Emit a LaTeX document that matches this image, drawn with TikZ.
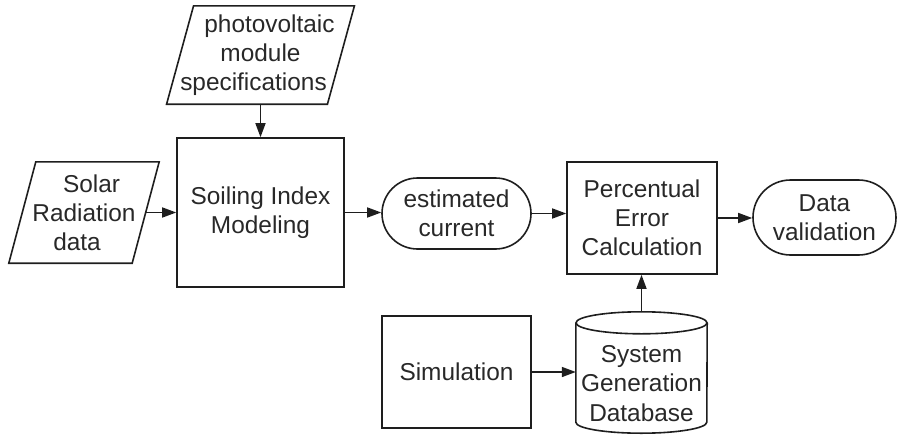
\documentclass[tikz,border=0pt]{standalone}
\usepackage{fontspec}
\setmainfont{Liberation Sans}
\usetikzlibrary{arrows.meta,shapes.misc}

\definecolor{ink}{RGB}{30,30,30}
\definecolor{txt}{RGB}{40,40,40}

\tikzset{
  outline/.style={draw=ink, line width=1.6pt},
  label/.style={font=\fontsize{24.4pt}{29.2pt}\selectfont, text=txt, align=center, inner sep=0pt},
  procbox/.style={label, outline, rectangle},
  terminal/.style={label, outline, rounded rectangle},
  iobody/.style={label, rectangle},
  flow/.style={draw=ink, line width=1.6pt, -{Triangle[length=14pt,width=10pt]}},
}

\begin{document}
\begin{tikzpicture}[x=1pt, y=-1pt]
  \useasboundingbox (0,0) rectangle (897,434);

  % data inputs (parallelograms: text body, outline drawn below)
  \node[iobody, minimum width=160pt, minimum height=98pt] (pv) at (260.5,55)
    {\hspace*{18pt}photovoltaic\\module\\specifications\hspace*{14pt}};
  \node[iobody, minimum width=123pt, minimum height=101pt] (solar) at (84,212.5)
    {\hspace*{15pt}Solar\\Radiation\\data\hspace*{14pt}};

  \draw[outline] ([xshift=13.5pt]pv.north west) -- ([xshift=13.5pt]pv.north east)
    -- ([xshift=-13.5pt]pv.south east) -- ([xshift=-13.5pt]pv.south west) -- cycle;
  \draw[outline] ([xshift=13.5pt]solar.north west) -- ([xshift=13.5pt]solar.north east)
    -- ([xshift=-13.5pt]solar.south east) -- ([xshift=-13.5pt]solar.south west) -- cycle;

  % processes
  \node[procbox, minimum width=167pt, minimum height=149pt] (soil) at (260.5,212.5)
    {Soiling Index\\Modeling};
  \node[procbox, minimum width=150pt, minimum height=112pt] (perc) at (642,218)
    {Percentual\\Error\\Calculation};
  \node[procbox, minimum width=149pt, minimum height=112pt] (sim) at (456.5,372)
    {Simulation};

  % terminals
  \node[terminal, minimum width=149pt, minimum height=71pt] (est) at (456.5,213.5)
    {estimated\\current};
  \node[terminal, minimum width=143pt, minimum height=75pt] (dv) at (824.5,217.5)
    {Data\\validation};

  % database cylinder: text body, outline drawn round it
  \node[iobody, minimum width=131pt, minimum height=99pt] (db) at (641.5,383.5)
    {System\\Generation\\Database};
  \draw[outline] ([yshift=11pt]db.north west) -- ([yshift=11pt]db.south west)
    arc[start angle=180, end angle=360, x radius=65.5pt, y radius=11pt]
    -- ([yshift=11pt]db.north east);
  \draw[outline] ([yshift=11pt]db.north) ellipse[x radius=65.5pt, y radius=11pt];
  \coordinate (dbtop) at ([yshift=22pt]db.north);

  % connectors
  \draw[flow] (pv.south) -- (soil.north);
  \draw[flow] (solar.east) -- (solar.east -| soil.west);
  \draw[flow] (soil.east) -- (soil.east -| est.west);
  \draw[flow] (est.east) -- (est.east -| perc.west);
  \draw[flow] (perc.east) -- (perc.east -| dv.west);
  \draw[flow] (dbtop) -- (dbtop |- perc.south);
  \draw[flow] (sim.east) -- (sim.east -| db.west);
\end{tikzpicture}
\end{document}
